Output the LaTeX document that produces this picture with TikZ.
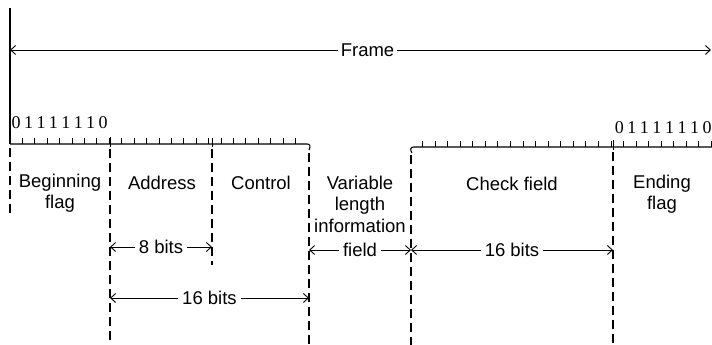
\documentclass[tikz,border=0pt]{standalone}
\usepackage{fontspec}
\setmainfont{Liberation Sans}
\newfontfamily\bitfont{Liberation Serif}
\usetikzlibrary{arrows.meta}
\begin{document}
\begin{tikzpicture}[x=1pt,y=-1pt, line width=1.1pt,
  lbl/.style={font=\fontsize{18.5}{21.5}\selectfont, align=center, inner sep=1pt},
  dim/.style={{Straight Barb[length=5pt,width=9pt]}-{Straight Barb[length=5pt,width=9pt]}, line width=0.9pt},
  bnd/.style={dash pattern=on 9pt off 5pt, line width=1.3pt},
  bit/.style={font=\bitfont\fontsize{18}{18}\selectfont, inner sep=0pt, anchor=base},
  tick/.style={line width=0.9pt},
  ]
\useasboundingbox (0,0) rectangle (712,345);
\begin{scope}
\clip (0,0) rectangle (712,345);
% frame arrow
\coordinate (fl) at (10,50);
\coordinate (fr) at (711,50);
\draw[dim] (fl) -- node[pos=0.51, fill=white, lbl, inner xsep=3pt] (frame) {Frame} (fr);
\draw (10,8) -- (10,144);
% left rail
\draw (10,144) -- (307,144) .. controls (310,144) and (311,146) .. (309,150);
\foreach \k in {1,...,23} \draw[tick] ({10+\k*12.417},144) -- ++(0,-6);
\draw[tick] (110,147) -- (110,137);
\draw[tick] (212,147) -- (212,138);
% right rail
\draw (412,153) .. controls (410,150) and (410,147) .. (414,147) -- (712,147);
\foreach \k in {1,...,24} \draw[tick] ({410+\k*12.56},147) -- ++(0,-6);
\draw[tick] (613,150) -- (613,140);
% bit strings
\foreach \d [count=\i from 0] in {0,1,1,1,1,1,1,0}
  \node[bit] (lb\i) at ({10+(\i+0.5)*12.417},128) {\d};
\foreach \d [count=\i from 0] in {0,1,1,1,1,1,1,0}
  \node[bit] (rb\i) at ({613+(\i+0.5)*12.56},133) {\d};
\end{scope}
% boundary coordinates
\coordinate (b0t) at (10,148);  \coordinate (b0b) at (10,217);
\coordinate (b1t) at (110,149); \coordinate (b1b) at (110,345);
\coordinate (b2t) at (212,149); \coordinate (b2b) at (212,265);
\coordinate (b3t) at (309,153); \coordinate (b3b) at (309,345);
\coordinate (b4t) at (411,155); \coordinate (b4b) at (411,345);
\coordinate (b5t) at (613,152); \coordinate (b5b) at (613,345);
\foreach \b in {0,...,5} \draw[bnd] (b\b t) -- (b\b b);
% field labels
\node[lbl] (begin) at (60,193) {Beginning\\flag};
\node[lbl] (addr) at (162,183) {Address};
\node[lbl] (ctrl) at (261,183) {Control};
\node[lbl] (var) at (360,204) {Variable\\length\\information};
\node[lbl] (check) at (512,184) {Check field};
\node[lbl] (end) at (662,194) {Ending\\flag};
% dimension arrows
\coordinate (d8l) at (110,247); \coordinate (d8r) at (212,247);
\draw[dim] (d8l) -- node[pos=0.5, fill=white, lbl, inner xsep=4pt] (eight) {8 bits} (d8r);
\coordinate (d16l) at (110,298); \coordinate (d16r) at (309,298);
\draw[dim] (d16l) -- node[pos=0.5, fill=white, lbl, inner xsep=4pt] (sixteenA) {16 bits} (d16r);
\coordinate (dfl) at (309,250); \coordinate (dfr) at (411,250);
\draw[dim] (dfl) -- node[pos=0.5, fill=white, lbl, inner xsep=4pt] (field) {field} (dfr);
\coordinate (dcl) at (411,250); \coordinate (dcr) at (613,250);
\draw[dim] (dcl) -- node[pos=0.5, fill=white, lbl, inner xsep=4pt] (sixteenB) {16 bits} (dcr);
\end{tikzpicture}
\end{document}
